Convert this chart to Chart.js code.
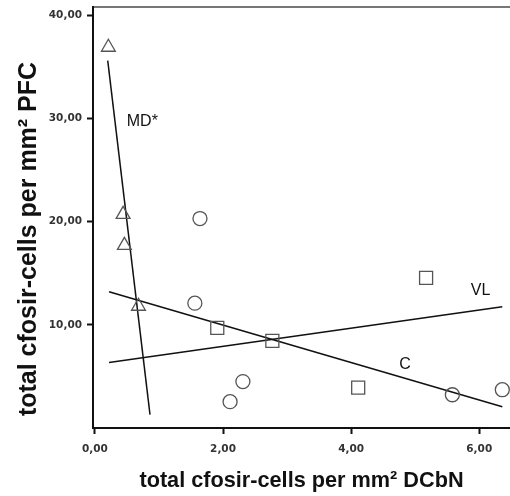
<!DOCTYPE html>
<html lang="en">
  <head>
    <meta charset="UTF-8" />
    <title>cfos DCbN vs PFC</title>
    <style>
      body { margin: 0; background: #fff; }
    </style>
  </head>
  <body>
    <canvas id="myChart" width="510" height="496"></canvas>

    <script src="https://cdn.jsdelivr.net/npm/chart.js"></script>

    <script>
      // data
      const mdX = [0.21, 0.44, 0.46, 0.68];
      const mdY = [36.9, 20.7, 17.7, 11.8];
      const cX = [1.64, 1.56, 2.31, 2.11, 5.58, 6.36];
      const cY = [20.3, 12.1, 4.5, 2.55, 3.22, 3.71];
      const vlX = [1.91, 2.77, 4.11, 5.17];
      const vlY = [9.7, 8.45, 3.91, 14.55];

      // fit lines, two ends each
      const mdLineX = [0.2, 0.86];
      const mdLineY = [35.6, 1.3];
      const cLineX = [0.22, 6.36];
      const cLineY = [13.2, 2.06];
      const vlLineX = [0.22, 6.36];
      const vlLineY = [6.34, 11.75];

      const lineLabels = ["MD*", "VL", "C"];
      const labelX = [0.74, 6.02, 4.84];
      const labelY = [29.65, 13.3, 6.1];

      const xTicks = [0, 2, 4, 6];
      const yTicks = [10, 20, 30, 40];

      const pts = (xs, ys) => xs.map((x, i) => ({ x: x, y: ys[i] }));
      const fmt = (v) => v.toFixed(2).replace(".", ",");

      // y title and the line names
      const extraText = {
        id: "extraText",
        afterDraw(chart) {
          const { ctx, chartArea, scales: { x, y } } = chart;
          ctx.save();
          ctx.fillStyle = "#111";
          ctx.textAlign = "center";
          ctx.textBaseline = "middle";
          ctx.font = "16px 'Liberation Sans', Arial, sans-serif";
          lineLabels.forEach((t, i) => {
            ctx.fillText(t, x.getPixelForValue(labelX[i]), y.getPixelForValue(labelY[i]));
          });

          ctx.translate(chartArea.left - 63.5, (chartArea.top + chartArea.bottom) / 2 + 21.5);
          ctx.rotate(-Math.PI / 2);
          ctx.font = "bold 25px 'Liberation Sans', Arial, sans-serif";
          ctx.fillText("total cfosir-cells per mm\u00b2 PFC", 0, 0);
          ctx.restore();
        },
      };

      const tickFont = { family: "'DejaVu Sans', sans-serif", size: 10.5, weight: "bold" };

      new Chart(document.getElementById("myChart"), {
        type: "scatter",
        data: {
          datasets: [
            {
              data: pts(mdX, mdY),
              pointStyle: "triangle",
              pointRadius: 8,
              borderColor: "#555",
              backgroundColor: "rgba(255,255,255,0)",
              borderWidth: 1.3,
            },
            {
              data: pts(cX, cY),
              pointStyle: "circle",
              pointRadius: 7,
              borderColor: "#555",
              backgroundColor: "rgba(255,255,255,0)",
              borderWidth: 1.3,
            },
            {
              data: pts(vlX, vlY),
              pointStyle: "rect",
              pointRadius: 9.2,
              borderColor: "#555",
              backgroundColor: "rgba(255,255,255,0)",
              borderWidth: 1.3,
            },
            {
              data: pts(mdLineX, mdLineY),
              showLine: true,
              pointRadius: 0,
              borderColor: "#111",
              borderWidth: 1.5,
            },
            {
              data: pts(cLineX, cLineY),
              showLine: true,
              pointRadius: 0,
              borderColor: "#111",
              borderWidth: 1.5,
            },
            {
              data: pts(vlLineX, vlLineY),
              showLine: true,
              pointRadius: 0,
              borderColor: "#111",
              borderWidth: 1.5,
            },
          ],
        },
        options: {
          responsive: false,
          animation: false,
          layout: { padding: 0, autoPadding: false },
          plugins: {
            legend: { display: false },
            tooltip: { enabled: false },
          },
          scales: {
            x: {
              type: "linear",
              position: "bottom",
              min: -0.03,
              max: 6.48,
              afterBuildTicks: (s) => { s.ticks = xTicks.map((v) => ({ value: v })); },
              afterFit: (s) => { s.height = 68; s.paddingLeft = 0; s.paddingRight = 0; },
              ticks: { font: tickFont, color: "#333", padding: 9, callback: fmt },
              grid: { drawOnChartArea: false, drawTicks: true, tickLength: 6, tickWidth: 2, tickColor: "#111" },
              border: { color: "#111", width: 2 },
              title: {
                display: true,
                text: "total cfosir-cells per mm\u00b2 DCbN",
                color: "#111",
                font: { family: "'Liberation Sans', Arial, sans-serif", size: 21.7, weight: "bold" },
                padding: { top: 0, bottom: 2 },
              },
            },
            x2: {
              type: "linear",
              position: "top",
              ticks: { display: false },
              grid: { drawOnChartArea: false, drawTicks: false },
              border: { color: "#777", width: 2 },
              afterFit: (s) => { s.height = 7; s.paddingLeft = 0; s.paddingRight = 0; },
            },
            y: {
              min: 0,
              max: 40.8,
              afterBuildTicks: (s) => { s.ticks = yTicks.map((v) => ({ value: v })); },
              afterFit: (s) => { s.width = 93; s.paddingTop = 0; s.paddingBottom = 0; },
              ticks: { font: tickFont, color: "#333", padding: 5, callback: fmt },
              grid: { drawOnChartArea: false, drawTicks: true, tickLength: 6, tickWidth: 2, tickColor: "#111" },
              border: { color: "#111", width: 2 },
            },
          },
        },
        plugins: [extraText],
      });
    </script>
  </body>
</html>
